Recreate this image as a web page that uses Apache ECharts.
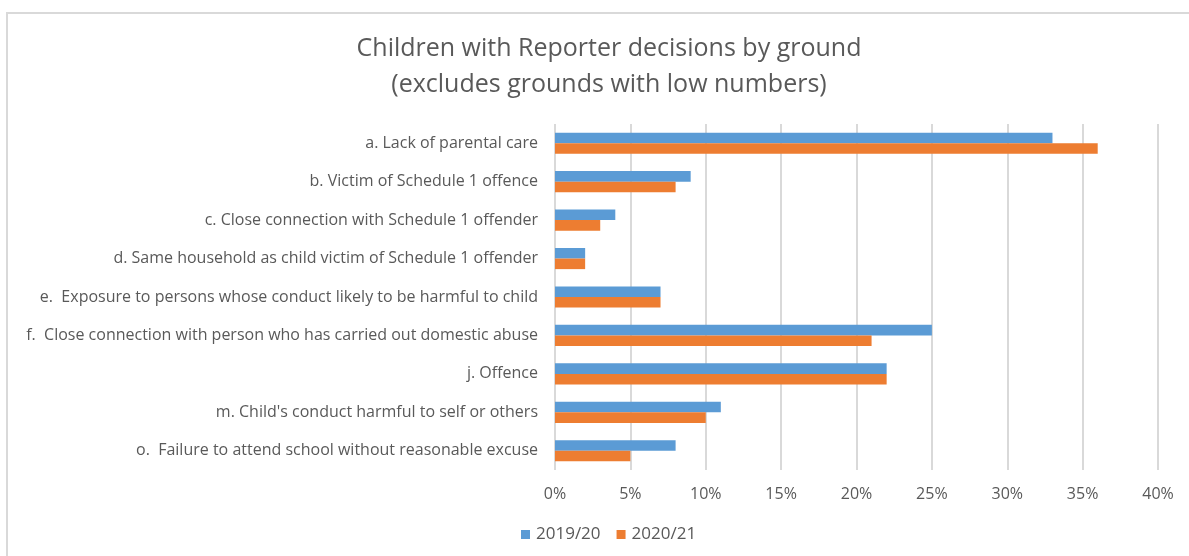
<!DOCTYPE html>
<html>
<head>
<meta charset="utf-8">
<script src="https://cdn.jsdelivr.net/npm/echarts@6/dist/echarts.min.js"></script>
<style>html,body{margin:0;padding:0;background:#fff}#c{width:1189px;height:556px}</style>
</head>
<body>
<div id="c"></div>
<script>
const titleLines = ['Children with Reporter decisions by ground', '(excludes grounds with low numbers)'];
const categories = [
  'a. Lack of parental care',
  'b. Victim of Schedule 1 offence',
  'c. Close connection with Schedule 1 offender',
  'd. Same household as child victim of Schedule 1 offender',
  'e.  Exposure to persons whose conduct likely to be harmful to child',
  'f.  Close connection with person who has carried out domestic abuse',
  'j. Offence',
  "m. Child's conduct harmful to self or others",
  'o.  Failure to attend school without reasonable excuse'
];
const seriesNames = ['2019/20', '2020/21'];
const values2019 = [33, 9, 4, 2, 7, 25, 22, 11, 8];
const values2021 = [36, 8, 3, 2, 7, 21, 22, 10, 5];
const xTicks = [0, 5, 10, 15, 20, 25, 30, 35, 40];

const font = 'Open Sans';
const chart = echarts.init(document.getElementById('c'), null, {renderer: 'canvas'});
chart.setOption({
  animation: false,
  backgroundColor: '#fff',
  graphic: [{
    type: 'rect', shape: {x: 7, y: 13, width: 1200, height: 600},
    style: {fill: 'none', stroke: '#d9d9d9', lineWidth: 2}, silent: true
  }],
  title: {
    text: titleLines.join('\n'),
    left: 604, textAlign: 'center', top: 26,
    textStyle: {fontFamily: font, fontSize: 25, fontWeight: 'normal', color: '#595959', lineHeight: 36}
  },
  legend: {
    left: 521, top: 526, padding: 0,
    itemWidth: 9, itemHeight: 9, itemGap: 16,
    icon: 'rect',
    textStyle: {fontFamily: font, fontSize: 17, color: '#595959', padding: [0, 0, 0, 1]},
    data: seriesNames
  },
  grid: {left: 555, right: 31, top: 124, bottom: 86, containLabel: false},
  xAxis: {
    type: 'value', min: xTicks[0], max: xTicks[xTicks.length - 1], interval: 5,
    axisLine: {show: false}, axisTick: {show: false},
    axisLabel: {formatter: v => v + '%', fontFamily: font, fontSize: 16, color: '#595959', margin: 16},
    splitLine: {show: true, lineStyle: {color: '#d9d9d9', width: 2}}
  },
  yAxis: {
    type: 'category', data: categories, inverse: true,
    axisLine: {show: false}, axisTick: {show: false},
    axisLabel: {fontFamily: font, fontSize: 16, color: '#595959', margin: 17}
  },
  series: [
    {name: seriesNames[0], type: 'bar', data: values2019, itemStyle: {color: '#5B9BD5'}, barGap: '0%', barCategoryGap: '45%'},
    {name: seriesNames[1], type: 'bar', data: values2021, itemStyle: {color: '#ED7D31'}, barGap: '0%', barCategoryGap: '45%'}
  ]
});
</script>
</body>
</html>
